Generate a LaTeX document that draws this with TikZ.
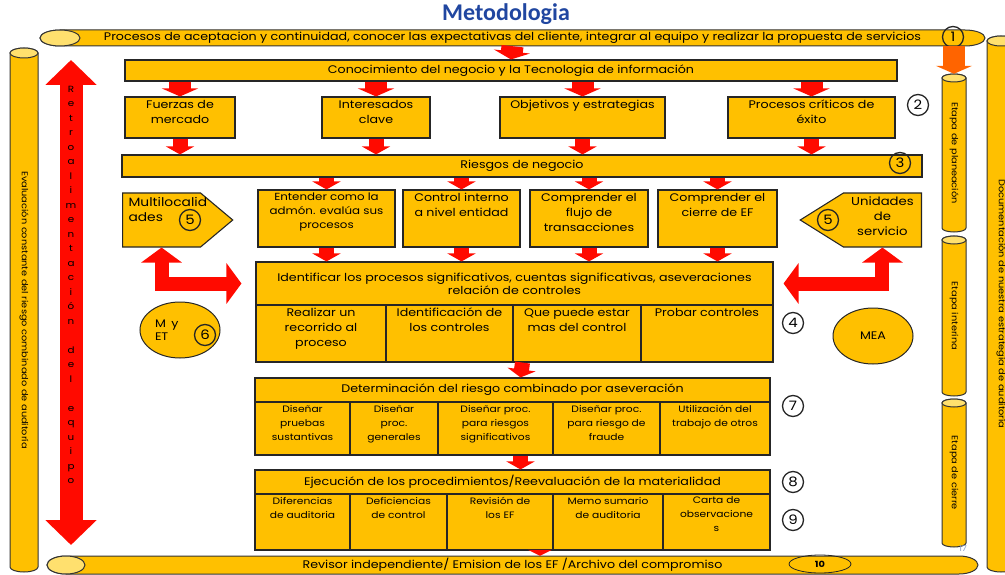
\documentclass[tikz,border=0pt]{standalone}
\usepackage{fontspec}
\setmainfont{Poppins}[FakeStretch=1.15]
\newfontfamily\titlefont{Carlito}
\definecolor{gold}{RGB}{255,192,0}
\definecolor{palegold}{RGB}{255,224,110}
\definecolor{arrred}{RGB}{255,10,0}
\definecolor{arrorange}{RGB}{255,100,0}
\definecolor{titleblue}{RGB}{32,70,160}
\definecolor{slate}{RGB}{140,160,200}
\usetikzlibrary{shapes.geometric, shapes.symbols, arrows.meta, calc}
\newcommand{\cellbox}[3]{\parbox[c][#2][t]{#1}{\centering\vspace{3pt}#3}}
% cylinder bodies: center, half length, half thickness, end radius
\newcommand{\hcylbody}[4]{%
  \draw[cylline] ($(#1)+(-#2,#3)$) -- ($(#1)+(#2,#3)$)
     arc[start angle=90, end angle=-90, x radius=#4, y radius=#3]
     -- ($(#1)+(-#2,-#3)$)
     arc[start angle=270, end angle=90, x radius=#4, y radius=#3] -- cycle;
  \draw[cylend] ($(#1)+(-#2,0pt)$) ellipse[x radius=#4, y radius=#3];}
\newcommand{\vcylbody}[4]{%
  \draw[cylline] ($(#1)+(-#3,#2)$) -- ($(#1)+(-#3,-#2)$)
     arc[start angle=180, end angle=360, x radius=#3, y radius=#4]
     -- ($(#1)+(#3,#2)$)
     arc[start angle=0, end angle=180, x radius=#3, y radius=#4] -- cycle;
  \draw[cylend] ($(#1)+(0pt,#2)$) ellipse[x radius=#3, y radius=#4];}

\begin{document}
\begin{tikzpicture}[x=1pt, y=-1pt,
    box/.style={draw=black!85, line width=1.1pt, fill=gold, inner sep=0pt, align=center},
    bar/.style={box, font=\fontsize{11}{13}\selectfont},
    cell/.style={box, font=\fontsize{11}{15}\selectfont},
    smallcell/.style={box, font=\fontsize{9.3}{14}\selectfont},
    cylline/.style={draw=black!80, line width=1pt, fill=gold},
    cylend/.style={draw=black!80, line width=1pt, fill=palegold},
    htext/.style={inner sep=0pt, font=\fontsize{11}{12}\selectfont},
    vtext/.style={inner sep=0pt, rotate=-90, font=\fontsize{8.5}{9}\selectfont},
    num/.style={circle, draw=black!85, line width=1.3pt, minimum size=21pt, inner sep=0pt,
        font=\fontsize{13}{13}\selectfont},
    ellip/.style={ellipse, draw=black!85, line width=1pt, fill=gold, minimum width=80pt,
        minimum height=56pt, inner sep=0pt, font=\fontsize{11}{12}\selectfont},
    flow/.style={draw=arrred, line width=15pt, -{Triangle[width=28pt,length=8pt]}},
    flowwide/.style={flow, line width=22pt, -{Triangle[width=36pt,length=8pt]}},
    bigflow/.style={draw=arrred, line width=14pt, line join=miter,
        {Triangle[width=40pt,length=15pt]}-{Triangle[width=40pt,length=15pt]}},
  ]
  \useasboundingbox (0,0) rectangle (1005,575);

  % title
  \node[font=\titlefont\bfseries\fontsize{24}{24}\selectfont, text=titleblue] (title) at (506,14) {Metodologia};

  % frame of cylinders
  \coordinate (procc) at (512.5,38);
  \coordinate (revc) at (512.5,565);
  \coordinate (evlc) at (24,310);
  \coordinate (docc) at (1001,304);
  \coordinate (eplc) at (954,153);
  \coordinate (eintc) at (954,316);
  \coordinate (eciec) at (954,473);
  \hcylbody{procc}{452.5pt}{8pt}{20pt}
  \hcylbody{revc}{446.5pt}{9pt}{19pt}
  \vcylbody{evlc}{257pt}{14pt}{5pt}
  \vcylbody{docc}{263pt}{14pt}{5pt}
  \vcylbody{eplc}{75pt}{12pt}{4pt}
  \vcylbody{eintc}{76pt}{12pt}{4pt}
  \vcylbody{eciec}{70pt}{12pt}{4pt}
  \node[htext, minimum width=905pt, minimum height=16pt] (proc) at (procc)
        {Procesos de aceptacion y continuidad, conocer las expectativas del cliente, integrar al equipo y realizar la propuesta de servicios};
  \node[htext, minimum width=893pt, minimum height=18pt] (rev) at (revc)
        {Revisor independiente/ Emision de los EF /Archivo del compromiso};
  \node[vtext, minimum width=514pt] (evl) at (evlc) {Evaluación constante del riesgo combinado de auditoría};
  \node[vtext, minimum width=526pt] (doc) at (docc) {Documentación de nuestra estrategia de auditoría};
  \node[vtext, minimum width=158pt] (epl) at (eplc) {Etapa de planeación};
  \node[vtext, minimum width=160pt] (eint) at (eintc) {Etapa interina};
  \node[vtext, minimum width=148pt] (ecie) at (eciec) {Etapa de cierre};

  % retroalimentacion
  \coordinate (rtop) at (71,60);
  \coordinate (rbot) at (71,545);
  \draw[draw=arrred, line width=23pt,
        {Triangle[width=50pt,length=25pt]}-{Triangle[width=50pt,length=25pt]}] (rtop) -- (rbot);
  \node[font=\fontsize{9}{14.5}\selectfont, align=center, inner sep=0pt] (retro) at (71,285)
        {R\\e\\t\\r\\o\\a\\l\\i\\m\\e\\n\\t\\a\\c\\i\\ó\\n\\[14.5pt]d\\e\\l\\[14.5pt]e\\q\\u\\i\\p\\o};

  % conocimiento
  \node[bar, minimum width=772pt, minimum height=21pt] (con) at (511,70.5)
        {Conocimiento del negocio y la Tecnologia de información};
  \node[cell] (fm) at (180,117.5) {\cellbox{110pt}{41pt}{Fuerzas de\\mercado}};
  \node[cell] (ic) at (376,117.5) {\cellbox{108pt}{41pt}{Interesados\\clave}};
  \node[cell] (oe) at (582.5,117.5) {\cellbox{165pt}{41pt}{Objetivos y estrategias}};
  \node[cell] (pc) at (811.5,117.5) {\cellbox{167pt}{41pt}{Procesos críticos de\\éxito}};

  \node[bar, minimum width=800pt, minimum height=22pt] (riesgo) at (522,166) {Riesgos de negocio};

  % third row
  \node[box, signal, signal to=east, signal pointer angle=80, anchor=west,
        font=\fontsize{12}{15}\selectfont] (multi) at (122,220)
        {\parbox[c][54pt][t]{78pt}{\raggedright\vspace{4pt}\leftskip=6pt Multilocalid\\ades}};
  \node[box, font=\fontsize{10.3}{14}\selectfont] (en) at (326.5,218.5)
        {\cellbox{137pt}{57pt}{Entender como la\\admón. evalúa sus\\procesos}};
  \node[cell] (ci) at (461.5,218.5) {\cellbox{117pt}{57pt}{Control interno\\a nivel entidad}};
  \node[cell] (cf) at (589,218.5) {\cellbox{118pt}{57pt}{Comprender el\\flujo de\\transacciones}};
  \node[cell] (cc) at (717.5,218.5) {\cellbox{119pt}{57pt}{Comprender el\\cierre de EF}};
  \node[box, signal, signal to=west, signal pointer angle=64, anchor=east,
        font=\fontsize{11.5}{15}\selectfont] (unid) at (922,220)
        {\parbox[c][54pt][t]{78pt}{\centering\vspace{4pt}Unidades\\de\\servicio}};

  % identificar
  \node[bar, minimum width=517pt, minimum height=43pt, font=\fontsize{11}{13}\selectfont] (ident) at (514.5,283.5)
        {Identificar los procesos significativos, cuentas significativas, aseveraciones\\relación de controles};
  \node[cell] (rr) at (321,333.5) {\cellbox{130pt}{57pt}{Realizar un\\recorrido al\\proceso}};
  \node[cell] (idc) at (449.5,333.5) {\cellbox{127pt}{57pt}{Identificación de\\los controles}};
  \node[cell] (qp) at (577,333.5) {\cellbox{128pt}{57pt}{Que puede estar\\mas del control}};
  \node[cell] (pcn) at (707,333.5) {\cellbox{132pt}{57pt}{Probar controles}};

  % determinacion
  \node[bar, minimum width=515pt, minimum height=24pt] (det) at (512.5,390)
        {Determinación del riesgo combinado por aseveración};
  \node[smallcell] (d1) at (302.5,428.5) {\cellbox{95pt}{53pt}{Diseñar\\pruebas\\sustantivas}};
  \node[smallcell] (d2) at (394,428.5) {\cellbox{88pt}{53pt}{Diseñar\\proc.\\generales}};
  \node[smallcell] (d3) at (495.5,428.5) {\cellbox{115pt}{53pt}{Diseñar proc.\\para riesgos\\significativos}};
  \node[smallcell] (d4) at (606.5,428.5) {\cellbox{107pt}{53pt}{Diseñar proc.\\para riesgo de\\fraude}};
  \node[smallcell] (d5) at (715,428.5) {\cellbox{110pt}{53pt}{Utilización del\\trabajo de otros}};

  % ejecucion
  \node[bar, minimum width=515pt, minimum height=24pt] (eje) at (512.5,482)
        {Ejecución de los procedimientos/Reevaluación de la materialidad};
  \node[smallcell] (e1) at (302.5,522) {\cellbox{95pt}{56pt}{Diferencias\\de auditoria}};
  \node[smallcell] (e2) at (398.5,522) {\cellbox{97pt}{56pt}{Deficiencias\\de control}};
  \node[smallcell] (e3) at (500,522) {\cellbox{106pt}{56pt}{Revisión de\\los EF}};
  \node[smallcell] (e4) at (608,522) {\cellbox{110pt}{56pt}{Memo sumario\\de auditoria}};
  \node[smallcell] (e5) at (716.5,522) {\cellbox{107pt}{56pt}{Carta de\\observacione\\s}};

  % ellipses
  \node[ellip] (myet) at (180,330) {\makebox[50pt][l]{\shortstack[l]{M\enspace y\\ET}}};
  \node[ellip] (mea) at (873,336) {MEA};

  % numbers
  \node[num] (n1) at (953,37) {1};
  \node[num] (n2) at (918,105) {2};
  \node[num] (n3) at (900,163) {3};
  \node[num] (n5a) at (190,220) {5};
  \node[num] (n5b) at (828,220) {5};
  \node[num] (n6) at (205,335) {6};
  \node[num] (n4) at (793,323) {4};
  \node[num] (n7) at (793,406) {7};
  \node[num] (n8) at (793,482) {8};
  \node[num] (n9) at (793,520) {9};
  \node[draw=black!85, ellipse, line width=0.8pt, minimum width=62pt, minimum height=18pt,
        inner sep=0pt, font=\bfseries\fontsize{8.5}{9}\selectfont] (n10) at (820,564) {10};
  \node[text=slate, font=\fontsize{8}{8}\selectfont] (pg) at (963,549) {17};

  % arrows
  \draw[flowwide] (proc.south) -- (con.north);
  \draw[flowwide, draw=arrorange] (epl.west |- proc.south) -- (epl.west);
  \foreach \b in {fm, ic, oe, pc} {
    \draw[flowwide] (con.south -| \b.north) -- (\b.north);
    \draw[flow] (\b.south) -- (\b.south |- riesgo.north);
  }
  \foreach \b in {en, ci, cf, cc} {
    \draw[flow] (riesgo.south -| \b.north) -- (\b.north);
    \draw[flow] (\b.south) -- (\b.south |- ident.north);
  }
  \draw[flow] ([xshift=8pt]ident.south |- qp.south) -- ([xshift=8pt]det.north);
  \draw[flow] ([xshift=8pt]det.south |- d3.south) -- ([xshift=8pt]eje.north);
  \draw[flow, line width=12pt, -{Triangle[width=24pt,length=6pt]}] ([xshift=40pt]e3.south) -- ([xshift=40pt]e3.south |- rev.north);
  \draw[bigflow] (multi.south) |- ([xshift=-14pt]ident.west);
  \draw[bigflow] (unid.south) |- ([xshift=10pt]ident.east);
\end{tikzpicture}
\end{document}
